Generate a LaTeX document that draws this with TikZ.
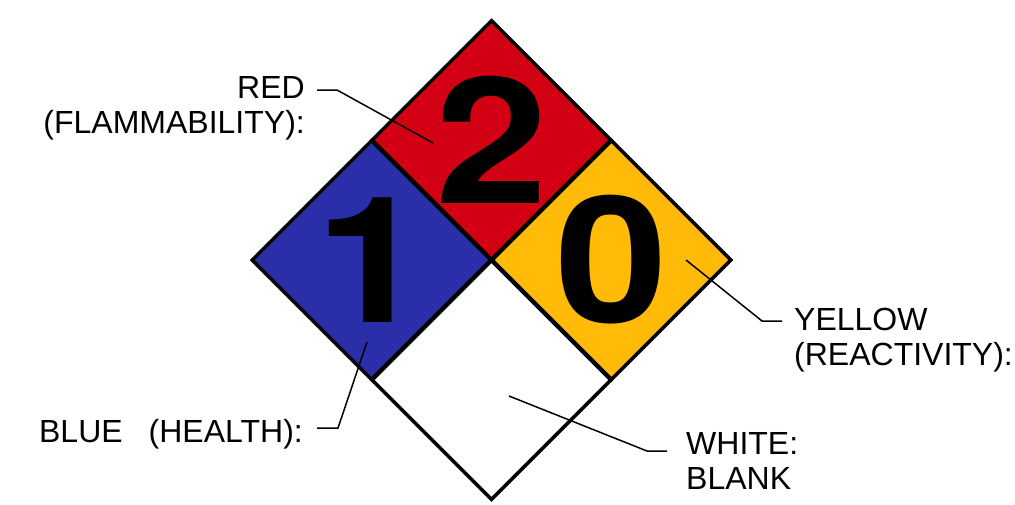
\documentclass[tikz,border=0pt]{standalone}
\usepackage{fontspec}
\setmainfont{Liberation Sans}
\newfontfamily\digitfont[FakeStretch=1.15]{TeX Gyre Heros}
\usepackage{tikz}
\usetikzlibrary{shapes.geometric}
\definecolor{firered}{RGB}{211,0,19}
\definecolor{healthblue}{RGB}{42,46,168}
\definecolor{reactyellow}{RGB}{255,187,8}

\begin{document}
\begin{tikzpicture}[x=1pt, y=-1pt,
    hazard/.style={diamond, aspect=1, minimum width=240pt, minimum height=240pt,
        inner sep=0pt, draw=black, line width=3.5pt},
    digit/.style={inner sep=0pt, font=\digitfont\bfseries\fontsize{176}{176}\selectfont},
    lbl/.style={inner sep=0pt, font=\fontsize{32}{35}\selectfont},
    leader/.style={line width=1.5pt}]
            \useasboundingbox (0,0) rectangle (1015,504);

            % --- THE FOUR DIAMONDS ---
            \node[hazard, fill=firered] (red) at (491.5,140) {};
            \node[hazard, fill=healthblue] (blue) at (371.5,260) {};
            \node[hazard, fill=reactyellow] (yellow) at (611.5,260) {};
            \node[hazard, fill=white] (white) at (491.5,380) {};

            % Ratings
            \node[digit] (numred) at (red) {2};
            \node[digit] (numblue) at (blue) {1};
            \node[digit] (numyellow) at (yellow) {0};

            % --- LABELS ---
            \node[lbl, align=right, anchor=north east] (lblred) at (305,76) {RED\\(FLAMMABILITY):};
            \node[lbl, align=left, anchor=north west] (lblyellow) at (794,308) {YELLOW\\(REACTIVITY):};
            \node[lbl, anchor=north east] (lblblue) at (303,419) {BLUE\hspace{26pt}(HEALTH):};
            \node[lbl, align=left, anchor=north west] (lblwhite) at (686,432) {WHITE:\\BLANK};

            % Leader ends inside the diamonds
            \coordinate (ptred) at (433,143);
            \coordinate (ptyellow) at (686,260);
            \coordinate (ptblue) at (367,342);
            \coordinate (ptwhite) at (509,396);

            % --- LEADERS ---
            \draw[leader] ([xshift=12pt,yshift=-14pt]lblred.north east) -- ++(20,0) -- (ptred);
            \draw[leader] ([xshift=-12pt,yshift=-13pt]lblyellow.north west) -- ++(-20,0) -- (ptyellow);
            \draw[leader] ([xshift=14pt,yshift=-9pt]lblblue.north east) -- ++(21,0) -- (ptblue);
            \draw[leader] ([xshift=-19pt,yshift=-19pt]lblwhite.north west) -- ++(-20,0) -- (ptwhite);

        \end{tikzpicture}
\end{document}
